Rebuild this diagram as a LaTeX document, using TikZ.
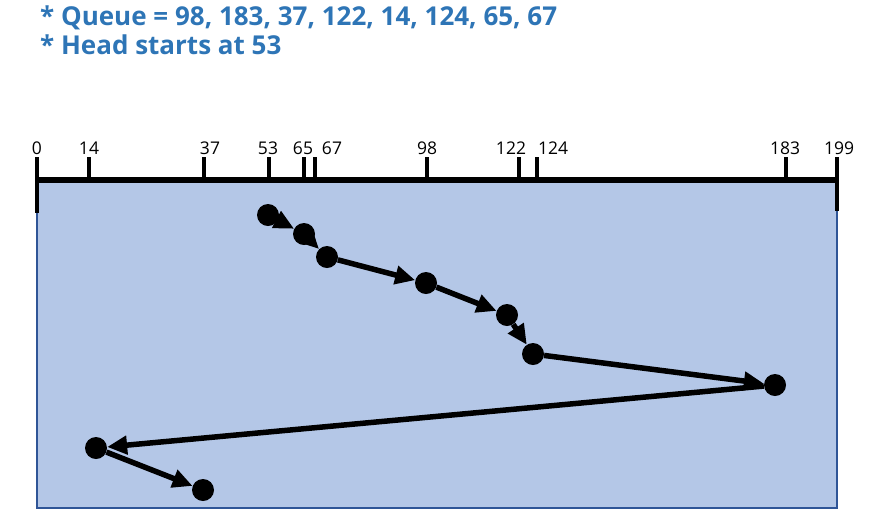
\documentclass[tikz,border=0pt]{standalone}
\usepackage{fontspec}
\setmainfont{Open Sans}
\usetikzlibrary{arrows.meta,positioning}
\definecolor{titleblue}{HTML}{2E75B6}
\definecolor{boxfill}{HTML}{B4C7E7}
\definecolor{boxline}{HTML}{2F5597}
\tikzset{
  dot/.style={circle, fill=black, inner sep=0pt, minimum size=22pt},
  seek/.style={line width=5.5pt, -{Triangle[length=20pt,width=18pt]}},
  ticklabel/.style={anchor=base, inner sep=0pt, font=\fontsize{17.5}{20}\selectfont},
  titletext/.style={anchor=base west, inner sep=0pt, text=titleblue, font=\fontsize{26}{30}\selectfont\bfseries},
}
\begin{document}
\begin{tikzpicture}[x=1pt,y=-1pt]
    \useasboundingbox (0,0) rectangle (874,523);
    % title lines
    \node[titletext] (queue) at (40,25) {* Queue = 98, 183, 37, 122, 14, 124, 65, 67};
    \node[titletext] (head) at (40,54) {* Head starts at 53};
    % disk area
    \fill[boxfill] (37,180) rectangle (837,508);
    \draw[boxline, line width=1.2pt] (37,180) -- (37,508) -- (837,508) -- (837,180);
    % cylinder axis
    \draw[line width=5.5pt] (37,180) -- (837,180);
    \draw[line width=3.5pt] (37,157) -- (37,213);
    \draw[line width=3.5pt] (837,157) -- (837,211);
    \foreach \x/\lx/\lab in {37/37/0, 89/89/14, 204/210/37, 269/268/53, 304/303/65,
        315/332/67, 427/427/98, 519/511/122, 537/553/124, 786/785/183, 837/839/199} {
      \draw[line width=3.5pt] (\x,157) -- (\x,180);
      \node[ticklabel] at (\lx,154) {\lab};
    }
    % head positions
    \node[dot] (c53) at (268,215) {};
    \node[dot] (c65) at (304,234) {};
    \node[dot] (c67) at (327,257) {};
    \node[dot] (c98) at (426,283) {};
    \node[dot] (c122) at (507,315) {};
    \node[dot] (c124) at (533,354) {};
    \node[dot] (c183) at (775,385) {};
    \node[dot] (c14) at (96,448) {};
    \node[dot] (c37) at (203,490) {};
    % head movement
    \draw[seek] (c53) -- (c65);
    \draw[seek] (c65) -- (c67);
    \draw[seek] (c67) -- (c98);
    \draw[seek] (c98) -- (c122);
    \draw[seek] (c122) -- (c124);
    \draw[seek] (c124) -- (c183);
    \draw[seek] (c183) -- (c14);
    \draw[seek] (c14) -- (c37);
\end{tikzpicture}
\end{document}
